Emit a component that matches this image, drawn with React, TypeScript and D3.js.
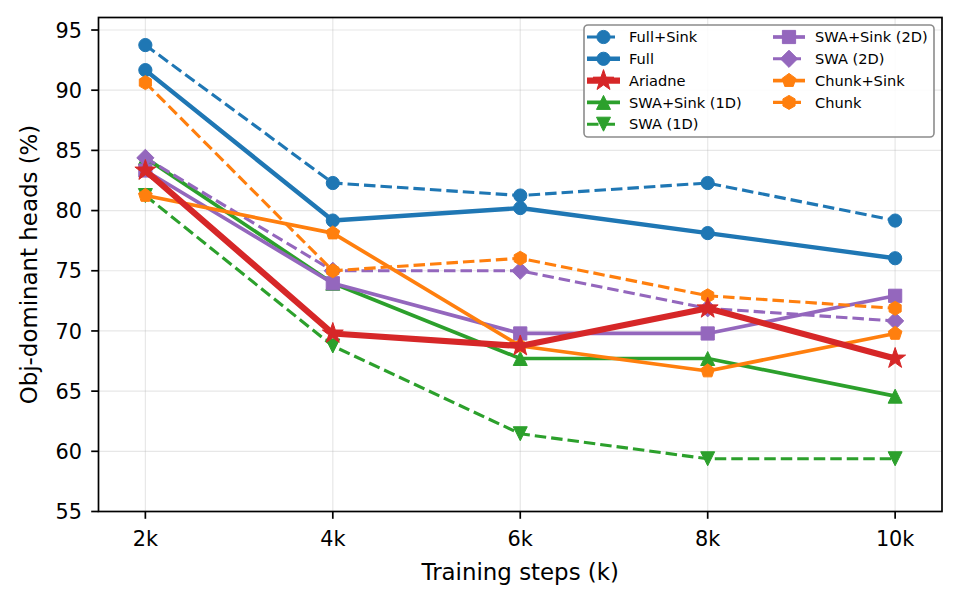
import React from "react";
import * as d3 from "d3";

const steps = [2, 4, 6, 8, 10];
const stepLabels = ["2k", "4k", "6k", "8k", "10k"];
const yTicks = [55, 60, 65, 70, 75, 80, 85, 90, 95];

const fullSink = [93.75, 82.29, 81.25, 82.29, 79.17];
const full = [91.67, 79.17, 80.21, 78.13, 76.04];
const ariadne = [83.33, 69.79, 68.75, 71.88, 67.71];
const swaSink1D = [84.38, 73.96, 67.71, 67.71, 64.58];
const swa1D = [81.25, 68.75, 61.46, 59.38, 59.38];
const swaSink2D = [83.33, 73.96, 69.79, 69.79, 72.92];
const swa2D = [84.38, 75.0, 75.0, 71.88, 70.83];
const chunkSink = [81.25, 78.13, 68.75, 66.67, 69.79];
const chunk = [90.63, 75.0, 76.04, 72.92, 71.88];

type Marker = "o" | "*" | "^" | "v" | "s" | "D" | "p" | "h";
interface Series {
  name: string;
  values: number[];
  color: string;
  dashed: boolean;
  marker: Marker;
  width: number;
}

const BLUE = "#1f77b4";
const ORANGE = "#ff7f0e";
const GREEN = "#2ca02c";
const RED = "#d62728";
const PURPLE = "#9467bd";

const series: Series[] = [
  { name: "Full+Sink", values: fullSink, color: BLUE, dashed: true, marker: "o", width: 3.1 },
  { name: "Full", values: full, color: BLUE, dashed: false, marker: "o", width: 4.4 },
  { name: "Ariadne", values: ariadne, color: RED, dashed: false, marker: "*", width: 6.2 },
  { name: "SWA+Sink (1D)", values: swaSink1D, color: GREEN, dashed: false, marker: "^", width: 3.7 },
  { name: "SWA (1D)", values: swa1D, color: GREEN, dashed: true, marker: "v", width: 3.1 },
  { name: "SWA+Sink (2D)", values: swaSink2D, color: PURPLE, dashed: false, marker: "s", width: 3.7 },
  { name: "SWA (2D)", values: swa2D, color: PURPLE, dashed: true, marker: "D", width: 3.1 },
  { name: "Chunk+Sink", values: chunkSink, color: ORANGE, dashed: false, marker: "p", width: 3.7 },
  { name: "Chunk", values: chunk, color: ORANGE, dashed: true, marker: "h", width: 3.1 },
];

// draw order: Ariadne on top
const drawOrder = [0, 1, 3, 4, 5, 6, 7, 8, 2];

function polygon(n: number, r: number, rot: number): string {
  const pts: string[] = [];
  for (let i = 0; i < n; i++) {
    const a = rot + (i * 2 * Math.PI) / n;
    pts.push(`${(r * Math.sin(a)).toFixed(2)},${(-r * Math.cos(a)).toFixed(2)}`);
  }
  return "M" + pts.join("L") + "Z";
}

function starPath(R: number, r: number): string {
  const pts: string[] = [];
  for (let i = 0; i < 10; i++) {
    const rad = i % 2 === 0 ? R : r;
    const a = (i * Math.PI) / 5;
    pts.push(`${(rad * Math.sin(a)).toFixed(2)},${(-rad * Math.cos(a)).toFixed(2)}`);
  }
  return "M" + pts.join("L") + "Z";
}

function markerPath(m: Marker): string {
  switch (m) {
    case "o": {
      const r = 6.6;
      return `M${r},0A${r},${r} 0 1,1 ${-r},0A${r},${r} 0 1,1 ${r},0Z`;
    }
    case "*":
      return starPath(11, 4.3);
    case "^": {
      const h = 7;
      return `M0,${-h}L${h},${h}L${-h},${h}Z`;
    }
    case "v": {
      const h = 7;
      return `M0,${h}L${h},${-h}L${-h},${-h}Z`;
    }
    case "s": {
      const h = 6.6;
      return `M${-h},${-h}L${h},${-h}L${h},${h}L${-h},${h}Z`;
    }
    case "D": {
      const h = 8.6;
      return `M0,${-h}L${h},0L0,${h}L${-h},0Z`;
    }
    case "p":
      return polygon(5, 7.2, 0);
    case "h":
      return polygon(6, 7.0, 0);
  }
}

const W = 960;
const H = 603;
const left = 98.5;
const right = 942;
const top = 17.5;
const bottom = 511.5;

export default function App() {
  const x = d3.scaleLinear().domain([1.5, 10.5]).range([left, right]);
  const y = d3.scaleLinear().domain([55, 96.04]).range([bottom, top]);
  const line = d3
    .line<number>()
    .x((_, i) => x(steps[i]))
    .y((v) => y(v));

  const font = "'DejaVu Sans', sans-serif";
  const legendRows = [37, 58.8, 80.6, 102.4, 124.2];
  const legendCols = [
    { x0: 587, x1: 620, tx: 629 },
    { x0: 773, x1: 805, tx: 815 },
  ];

  return (
    <svg
      width={W}
      height={H}
      viewBox={`0 0 ${W} ${H}`}
      style={{ position: "absolute", left: 0, top: 0, background: "#fff" }}
      fontFamily={font}
    >
      <rect x={0} y={0} width={W} height={H} fill="#fff" />
      {/* grid */}
      <g stroke="#b0b0b0" strokeOpacity={0.3} strokeWidth={1.2}>
        {steps.map((s) => (
          <line key={"gx" + s} x1={x(s)} x2={x(s)} y1={top} y2={bottom} />
        ))}
        {yTicks.map((t) => (
          <line key={"gy" + t} x1={left} x2={right} y1={y(t)} y2={y(t)} />
        ))}
      </g>
      {/* series */}
      <defs>
        <clipPath id="plotclip">
          <rect x={left} y={top} width={right - left} height={bottom - top} />
        </clipPath>
      </defs>
      <g clipPath="url(#plotclip)">
        {drawOrder.map((idx) => {
          const s = series[idx];
          const dash = s.dashed ? "11.5,5" : undefined;
          return (
            <g key={s.name}>
              <path
                d={line(s.values) || ""}
                fill="none"
                stroke={s.color}
                strokeWidth={s.width}
                strokeDasharray={dash}
                strokeLinejoin="round"
              />
              {s.values.map((v, i) => (
                <path
                  key={i}
                  d={markerPath(s.marker)}
                  transform={`translate(${x(steps[i])},${y(v)})`}
                  fill={s.color}
                  stroke={s.color}
                  strokeWidth={1}
                  strokeLinejoin="miter"
                />
              ))}
            </g>
          );
        })}
      </g>
      {/* spines */}
      <rect
        x={left}
        y={top}
        width={right - left}
        height={bottom - top}
        fill="none"
        stroke="#000"
        strokeWidth={1.7}
      />
      {/* x ticks */}
      {steps.map((s, i) => (
        <g key={"xt" + s}>
          <line x1={x(s)} x2={x(s)} y1={bottom} y2={bottom + 7.3} stroke="#000" strokeWidth={1.7} />
          <text x={x(s)} y={545.5} fontSize={20.8} textAnchor="middle" fill="#000">
            {stepLabels[i]}
          </text>
        </g>
      ))}
      {/* y ticks */}
      {yTicks.map((t) => (
        <g key={"yt" + t}>
          <line x1={left - 7.3} x2={left} y1={y(t)} y2={y(t)} stroke="#000" strokeWidth={1.7} />
          <text x={82} y={y(t) + 7.6} fontSize={20.8} textAnchor="end" fill="#000">
            {t}
          </text>
        </g>
      ))}
      {/* axis labels */}
      <text x={(left + right) / 2} y={580} fontSize={22.9} textAnchor="middle" fill="#000">
        Training steps (k)
      </text>
      <text
        transform={`translate(37,${(top + bottom) / 2}) rotate(-90)`}
        fontSize={22.9}
        textAnchor="middle"
        fill="#000"
      >
        Obj-dominant heads (%)
      </text>
      {/* legend */}
      <rect
        x={584}
        y={25}
        width={350}
        height={112}
        rx={4}
        ry={4}
        fill="#fff"
        fillOpacity={0.85}
        stroke="#8c8c8c"
        strokeWidth={1.6}
      />
      {series.map((s, i) => {
        const col = legendCols[i < 5 ? 0 : 1];
        const cy = legendRows[i < 5 ? i : i - 5];
        const mx = (col.x0 + col.x1) / 2;
        return (
          <g key={"lg" + s.name}>
            <line
              x1={col.x0}
              x2={col.x1}
              y1={cy}
              y2={cy}
              stroke={s.color}
              strokeWidth={s.width}
              strokeDasharray={s.dashed ? "11.5,5" : undefined}
            />
            <path
              d={markerPath(s.marker)}
              transform={`translate(${mx},${cy})`}
              fill={s.color}
              stroke={s.color}
              strokeWidth={1}
            />
            <text x={col.tx} y={cy + 5.2} fontSize={14.6} fill="#000">
              {s.name}
            </text>
          </g>
        );
      })}
    </svg>
  );
}
